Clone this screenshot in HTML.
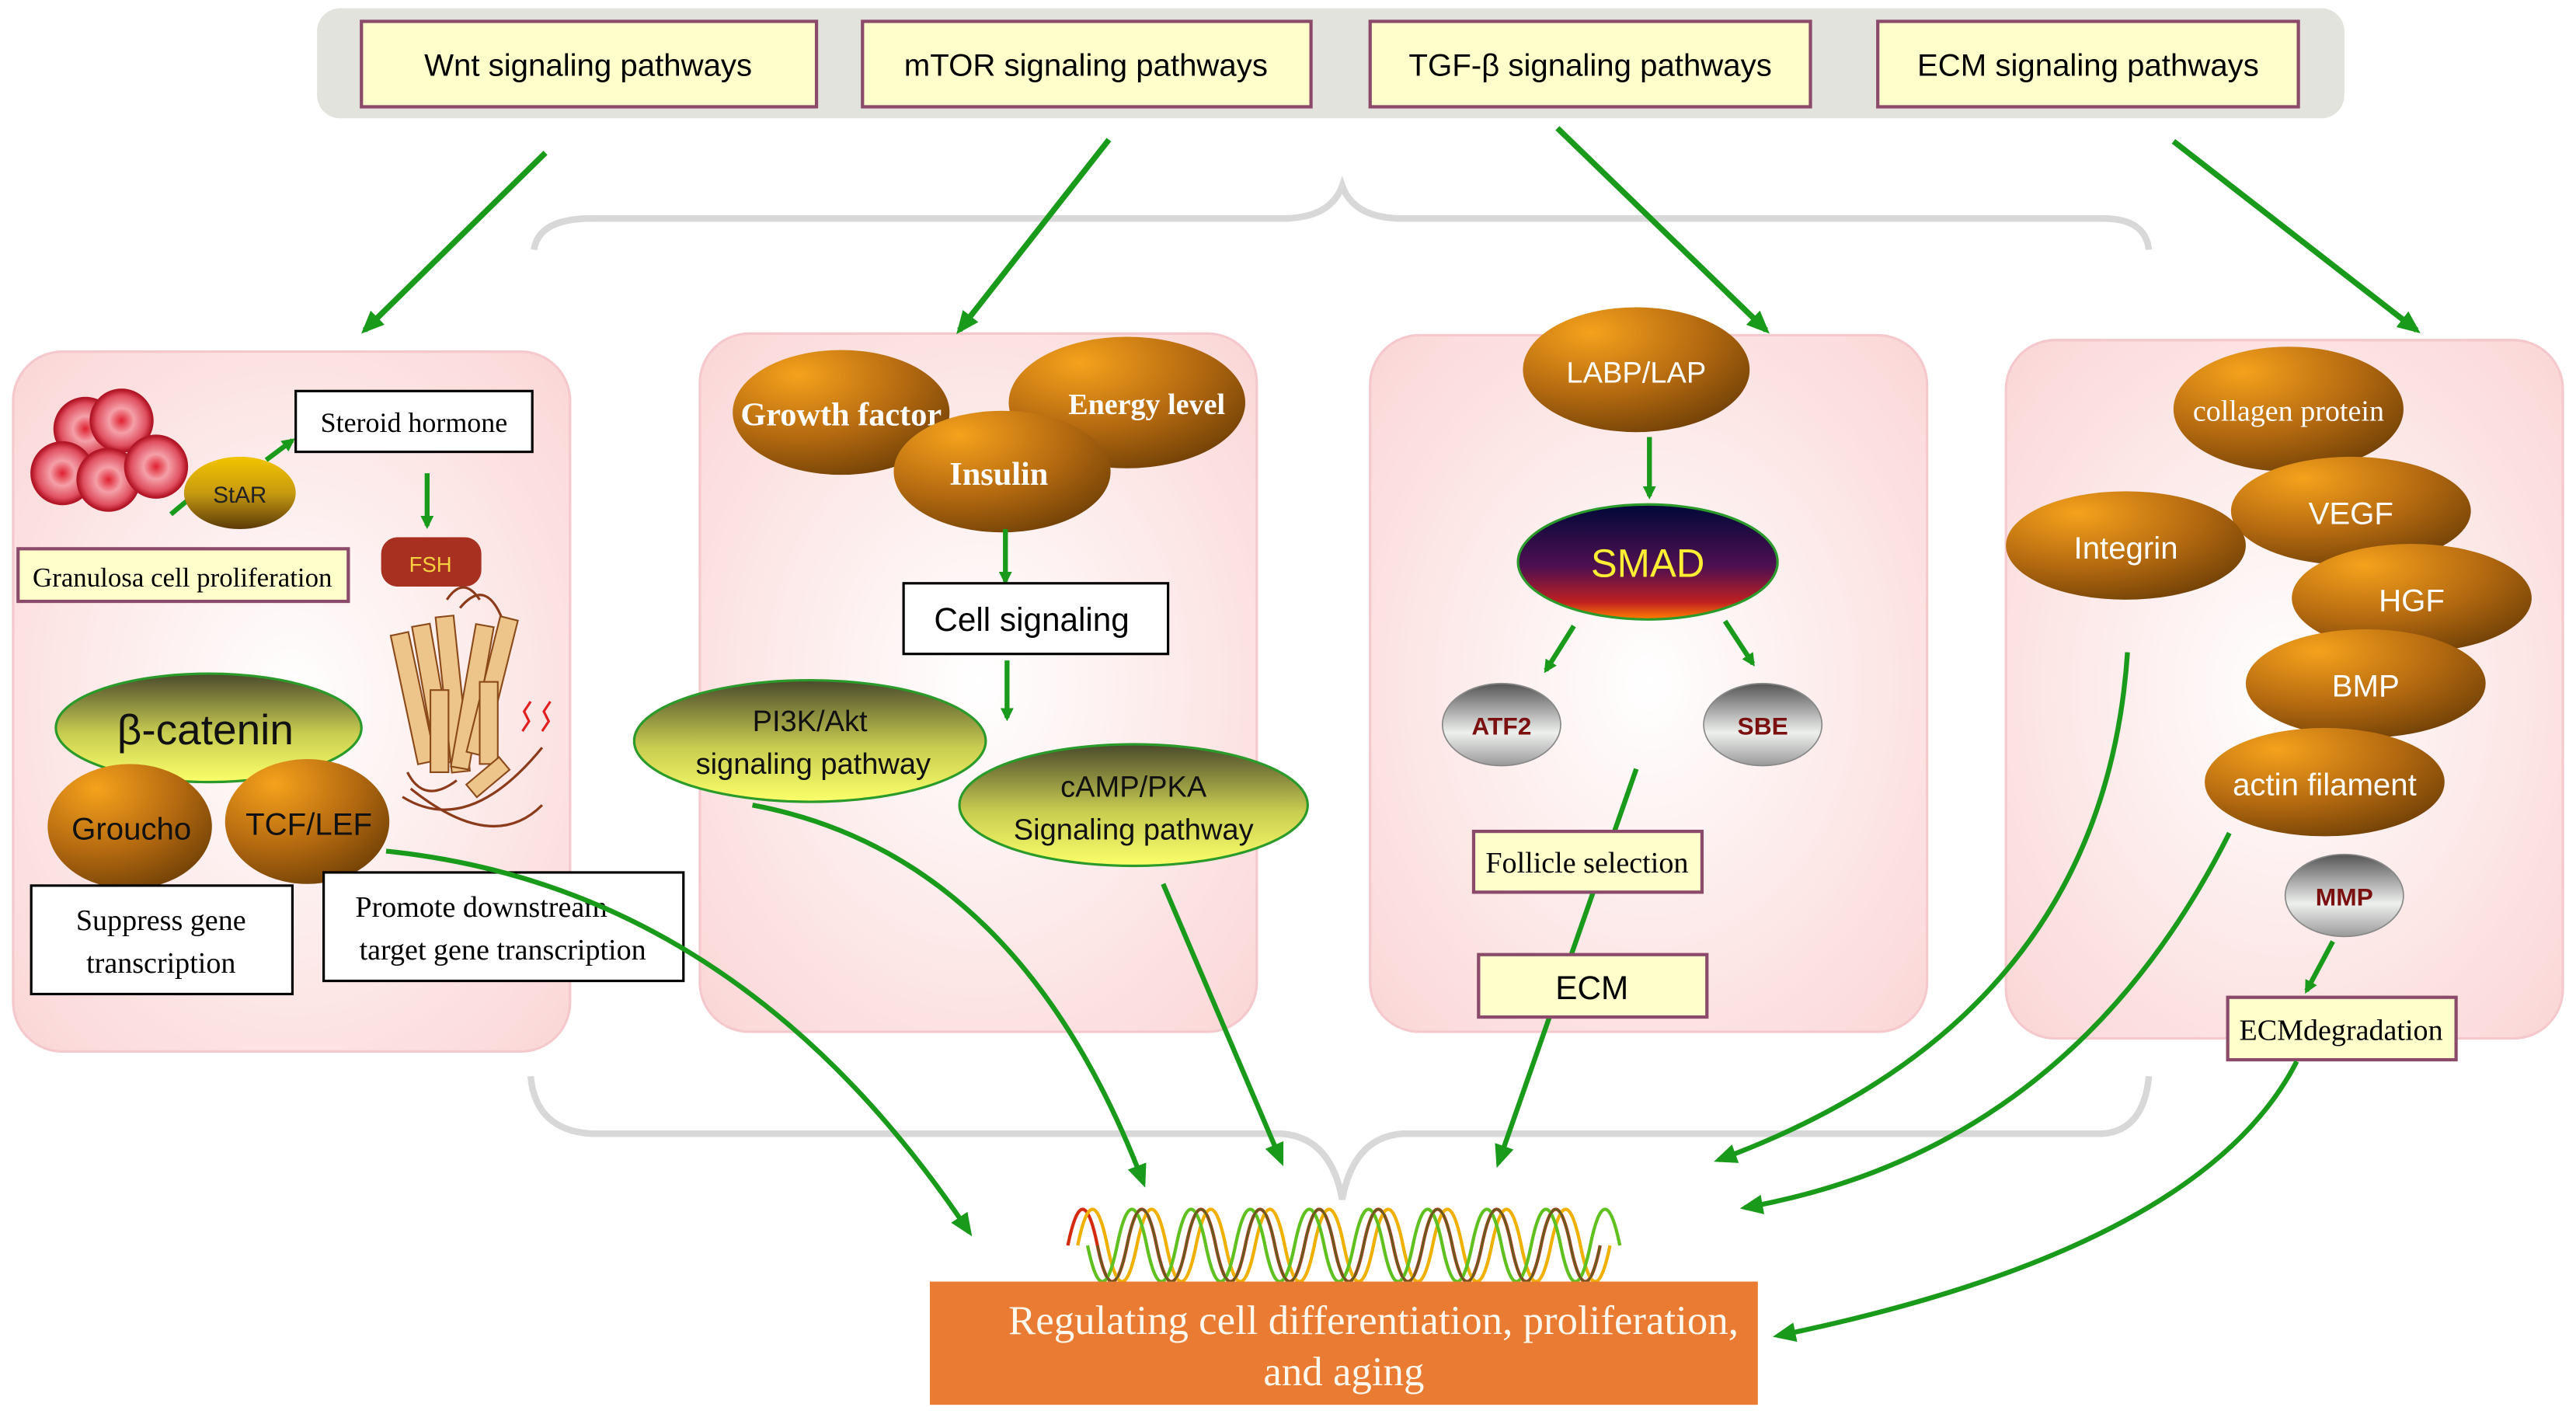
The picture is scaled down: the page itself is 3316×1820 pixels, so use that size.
<!DOCTYPE html>
<html><head><meta charset="utf-8"><style>
html,body{margin:0;padding:0;background:#fff;width:3316px;height:1820px;overflow:hidden}
svg{display:block}
.s{font-family:"Liberation Serif",serif}
.n{font-family:"Liberation Sans",sans-serif}
</style></head><body>
<svg width="3316" height="1820" viewBox="0 0 1568 860.6" preserveAspectRatio="none">
<defs>
<radialGradient id="br" cx="0.3" cy="0.2" r="0.9"><stop offset="0" stop-color="#f5a21c"/><stop offset="0.55" stop-color="#b56a10"/><stop offset="1" stop-color="#6e3f06"/></radialGradient>
<linearGradient id="gy" x1="0" y1="0" x2="0" y2="1"><stop offset="0" stop-color="#4a4a2c"/><stop offset="0.55" stop-color="#c8cc50"/><stop offset="1" stop-color="#fbff6a"/></linearGradient>
<linearGradient id="gr" x1="0" y1="0" x2="0" y2="1"><stop offset="0" stop-color="#555"/><stop offset="0.6" stop-color="#eef0ee"/><stop offset="1" stop-color="#999"/></linearGradient>
<linearGradient id="sm" x1="0" y1="0" x2="0" y2="1"><stop offset="0" stop-color="#000838"/><stop offset="0.55" stop-color="#501050"/><stop offset="0.85" stop-color="#c02020"/><stop offset="1" stop-color="#ff8000"/></linearGradient>
<linearGradient id="st" x1="0" y1="0" x2="0" y2="1"><stop offset="0" stop-color="#f2c400"/><stop offset="0.5" stop-color="#c89a10"/><stop offset="1" stop-color="#5a3a08"/></linearGradient>
<radialGradient id="pk" cx="0.5" cy="0.5" r="0.7"><stop offset="0" stop-color="#ffffff"/><stop offset="1" stop-color="#fbd6d6"/></radialGradient>
<radialGradient id="cell" cx="0.5" cy="0.5" r="0.5"><stop offset="0" stop-color="#e02030"/><stop offset="0.4" stop-color="#f4a0a8"/><stop offset="0.8" stop-color="#e05060"/><stop offset="1" stop-color="#b01020"/></radialGradient>
<marker id="ah" markerWidth="8" markerHeight="8" refX="6" refY="4" orient="auto" markerUnits="userSpaceOnUse" viewBox="0 0 8 8"><path d="M0,0 L8,4 L0,8 z" fill="#1a9a1a"/></marker>
<marker id="ah2" markerWidth="14" markerHeight="14" refX="11" refY="7" orient="auto" markerUnits="userSpaceOnUse" viewBox="0 0 14 14"><path d="M0,1 L14,7 L0,13 z" fill="#1a9a1a"/></marker>
</defs>

<rect x="193" y="5" width="1234" height="67" rx="14" fill="#e2e3dc"/>
<g stroke="#8b4a6a" stroke-width="2" fill="#ffffcc">
<rect x="220" y="13" width="277" height="52"/>
<rect x="525" y="13" width="273" height="52"/>
<rect x="834" y="13" width="268" height="52"/>
<rect x="1143" y="13" width="256" height="52"/>
</g>
<g class="n" font-size="19" text-anchor="middle" fill="#000">
<text x="358" y="46">Wnt signaling pathways</text>
<text x="661" y="46">mTOR signaling pathways</text>
<text x="968" y="46">TGF-β signaling pathways</text>
<text x="1271" y="46">ECM signaling pathways</text>
</g>

<path d="M325,152 Q328,133 360,133 L780,133 Q810,133 817,113 Q824,133 854,133 L1280,133 Q1306,133 1308,152" fill="none" stroke="#d8d8d8" stroke-width="4"/>
<path d="M323,655 Q326,688 360,690 L780,690 Q810,692 817,730 Q824,692 854,690 L1280,690 Q1305,688 1308,655" fill="none" stroke="#d8d8d8" stroke-width="4"/>

<g fill="url(#pk)" stroke="#f4c8cc" stroke-width="1.5">
<rect x="8" y="214" width="339" height="426" rx="30"/>
<rect x="426" y="203" width="339" height="425" rx="30"/>
<rect x="834" y="204" width="339" height="424" rx="30"/>
<rect x="1221" y="207" width="339" height="425" rx="30"/>
</g>

<g stroke="#1a9a1a" stroke-width="3.5" fill="none" marker-end="url(#ah2)">
<line x1="332" y1="93" x2="222" y2="201"/>
<line x1="675" y1="85" x2="584" y2="201"/>
<line x1="948" y1="78" x2="1075" y2="201"/>
<line x1="1323" y1="86" x2="1471" y2="201"/>
</g>

<g stroke="#b01828" stroke-width="1">
<circle cx="52" cy="261" r="19" fill="url(#cell)"/>
<circle cx="74" cy="256" r="19" fill="url(#cell)"/>
<circle cx="38" cy="288" r="19" fill="url(#cell)"/>
<circle cx="66" cy="292" r="19" fill="url(#cell)"/>
<circle cx="95" cy="284" r="19" fill="url(#cell)"/>
</g>
<line x1="104" y1="313" x2="116" y2="303" stroke="#1a9a1a" stroke-width="3"/>
<line x1="162" y1="280" x2="178" y2="268" stroke="#1a9a1a" stroke-width="3" marker-end="url(#ah)"/>
<ellipse cx="146" cy="300" rx="34" ry="22" fill="url(#st)"/>
<text x="146" y="306" class="n" font-size="14" text-anchor="middle" fill="#222">StAR</text>
<rect x="180" y="238" width="144" height="37" fill="#fff" stroke="#000" stroke-width="1.5"/>
<text x="252" y="263" class="s" font-size="17" text-anchor="middle">Steroid hormone</text>
<line x1="260" y1="288" x2="260" y2="320" stroke="#1a9a1a" stroke-width="3" marker-end="url(#ah)"/>
<rect x="11" y="334" width="201" height="32" fill="#ffffcc" stroke="#8b4a6a" stroke-width="2"/>
<text x="111" y="357" class="s" font-size="16.5" text-anchor="middle">Granulosa cell proliferation</text>
<rect x="232" y="327" width="61" height="30" rx="10" fill="#a83020"/>
<text x="262" y="348" class="n" font-size="13" text-anchor="middle" fill="#f8d040">FSH</text>
<g fill="#edc58a" stroke="#8b4a1a" stroke-width="1">
<rect x="246" y="385" width="11" height="80" transform="rotate(-12 251 425)"/>
<rect x="258" y="380" width="11" height="85" transform="rotate(-10 263 422)"/>
<rect x="270" y="375" width="11" height="95" transform="rotate(-6 275 422)"/>
<rect x="282" y="380" width="11" height="88" transform="rotate(10 287 424)"/>
<rect x="294" y="375" width="11" height="85" transform="rotate(14 299 418)"/>
<rect x="262" y="420" width="11" height="50"/>
<rect x="292" y="415" width="11" height="50"/>
<rect x="292" y="460" width="10" height="26" transform="rotate(50 297 473)"/>
</g>
<path d="M272,365 q10,-15 20,0 M280,370 q15,-18 25,5 M248,470 q10,20 30,5 M245,485 q40,25 85,-30 M250,480 q50,40 80,10" fill="none" stroke="#8b3a1a" stroke-width="1.5"/>
<path d="M318,445 l4,-6 -3,-6 4,-6 M330,445 l4,-6 -3,-6 4,-6" fill="none" stroke="#e02020" stroke-width="1.5"/>
<ellipse cx="127" cy="443" rx="93" ry="33" fill="url(#gy)" stroke="#2a9a2a" stroke-width="1.5"/>
<text x="125" y="453" class="n" font-size="26" text-anchor="middle" fill="#111">β-catenin</text>
<ellipse cx="79" cy="503" rx="50" ry="38" fill="url(#br)"/>
<text x="80" y="511" class="n" font-size="19" text-anchor="middle" fill="#111">Groucho</text>
<ellipse cx="187" cy="500" rx="50" ry="38" fill="url(#br)"/>
<text x="188" y="508" class="n" font-size="19" text-anchor="middle" fill="#111">TCF/LEF</text>
<rect x="19" y="539" width="159" height="66" fill="#fff" stroke="#000" stroke-width="1.5"/>
<text x="98" y="566" class="s" font-size="18" text-anchor="middle">Suppress gene</text>
<text x="98" y="592" class="s" font-size="18" text-anchor="middle">transcription</text>
<rect x="197" y="531" width="219" height="66" fill="#fff" stroke="#000" stroke-width="1.5"/>
<text x="293" y="558" class="s" font-size="18" text-anchor="middle">Promote downstream</text>
<text x="306" y="584" class="s" font-size="18" text-anchor="middle">target gene transcription</text>

<ellipse cx="512" cy="251" rx="66" ry="38" fill="url(#br)"/>
<text x="512" y="259" class="s" font-size="20" font-weight="bold" text-anchor="middle" fill="#fff">Growth factor</text>
<ellipse cx="686" cy="245" rx="72" ry="40" fill="url(#br)"/>
<text x="698" y="252" class="s" font-size="18" font-weight="bold" text-anchor="middle" fill="#fff">Energy level</text>
<ellipse cx="610" cy="287" rx="66" ry="37" fill="url(#br)"/>
<text x="608" y="295" class="s" font-size="20" font-weight="bold" text-anchor="middle" fill="#fff">Insulin</text>
<line x1="612" y1="322" x2="612" y2="354" stroke="#1a9a1a" stroke-width="3" marker-end="url(#ah)"/>
<rect x="550" y="355" width="161" height="43" fill="#fff" stroke="#000" stroke-width="1.5"/>
<text x="628" y="384" class="n" font-size="20" text-anchor="middle">Cell signaling</text>
<line x1="613" y1="402" x2="613" y2="437" stroke="#1a9a1a" stroke-width="3" marker-end="url(#ah)"/>
<ellipse cx="493" cy="451" rx="107" ry="37" fill="url(#gy)" stroke="#2a9a2a" stroke-width="1.5"/>
<text x="493" y="445" class="n" font-size="18" text-anchor="middle" fill="#111">PI3K/Akt</text>
<text x="495" y="471" class="n" font-size="18" text-anchor="middle" fill="#111">signaling pathway</text>
<ellipse cx="690" cy="490" rx="106" ry="37" fill="url(#gy)" stroke="#2a9a2a" stroke-width="1.5"/>
<text x="690" y="485" class="n" font-size="18" text-anchor="middle" fill="#111">cAMP/PKA</text>
<text x="690" y="511" class="n" font-size="18" text-anchor="middle" fill="#111">Signaling pathway</text>

<ellipse cx="996" cy="225" rx="69" ry="38" fill="url(#br)"/>
<text x="996" y="233" class="n" font-size="18" text-anchor="middle" fill="#fff">LABP/LAP</text>
<line x1="1004" y1="266" x2="1004" y2="302" stroke="#1a9a1a" stroke-width="3" marker-end="url(#ah)"/>
<ellipse cx="1003" cy="342" rx="79" ry="35" fill="url(#sm)" stroke="#2a9a2a" stroke-width="1.5"/>
<text x="1003" y="351" class="n" font-size="24" text-anchor="middle" fill="#ffee33">SMAD</text>
<line x1="958" y1="381" x2="941" y2="408" stroke="#1a9a1a" stroke-width="3" marker-end="url(#ah)"/>
<line x1="1050" y1="378" x2="1067" y2="404" stroke="#1a9a1a" stroke-width="3" marker-end="url(#ah)"/>
<ellipse cx="914" cy="441" rx="36" ry="25" fill="url(#gr)" stroke="#888" stroke-width="0.8"/>
<text x="914" y="447" class="n" font-size="15" font-weight="bold" text-anchor="middle" fill="#7a1010">ATF2</text>
<ellipse cx="1073" cy="441" rx="36" ry="25" fill="url(#gr)" stroke="#888" stroke-width="0.8"/>
<text x="1073" y="447" class="n" font-size="15" font-weight="bold" text-anchor="middle" fill="#7a1010">SBE</text>
<line x1="996" y1="468" x2="912" y2="708" stroke="#1a9a1a" stroke-width="3" marker-end="url(#ah2)"/>
<rect x="897" y="506" width="139" height="37" fill="#ffffcc" stroke="#8b4a6a" stroke-width="2"/>
<text x="966" y="531" class="s" font-size="18" text-anchor="middle">Follicle selection</text>
<rect x="900" y="581" width="139" height="38" fill="#ffffcc" stroke="#8b4a6a" stroke-width="2"/>
<text x="969" y="608" class="n" font-size="20" text-anchor="middle">ECM</text>

<ellipse cx="1393" cy="249" rx="70" ry="38" fill="url(#br)"/>
<text x="1393" y="256" class="s" font-size="18" text-anchor="middle" fill="#fff">collagen protein</text>
<ellipse cx="1431" cy="311" rx="73" ry="33" fill="url(#br)"/>
<text x="1431" y="319" class="n" font-size="19" text-anchor="middle" fill="#fff">VEGF</text>
<ellipse cx="1294" cy="332" rx="73" ry="33" fill="url(#br)"/>
<text x="1294" y="340" class="n" font-size="19" text-anchor="middle" fill="#fff">Integrin</text>
<ellipse cx="1468" cy="364" rx="73" ry="33" fill="url(#br)"/>
<text x="1468" y="372" class="n" font-size="19" text-anchor="middle" fill="#fff">HGF</text>
<ellipse cx="1440" cy="416" rx="73" ry="33" fill="url(#br)"/>
<text x="1440" y="424" class="n" font-size="19" text-anchor="middle" fill="#fff">BMP</text>
<ellipse cx="1415" cy="476" rx="73" ry="33" fill="url(#br)"/>
<text x="1415" y="484" class="n" font-size="19" text-anchor="middle" fill="#fff">actin filament</text>
<ellipse cx="1427" cy="545" rx="36" ry="25" fill="url(#gr)" stroke="#888" stroke-width="0.8"/>
<text x="1427" y="551" class="n" font-size="15" font-weight="bold" text-anchor="middle" fill="#7a1010">MMP</text>
<line x1="1420" y1="573" x2="1404" y2="603" stroke="#1a9a1a" stroke-width="3" marker-end="url(#ah)"/>
<rect x="1356" y="607" width="139" height="38" fill="#ffffcc" stroke="#8b4a6a" stroke-width="2"/>
<text x="1425" y="633" class="s" font-size="18" text-anchor="middle">ECMdegradation</text>

<g stroke="#1a9a1a" stroke-width="3" fill="none" marker-end="url(#ah2)">
<path d="M235,518 Q450,540 590,750"/>
<path d="M458,490 Q620,520 696,720"/>
<path d="M708,538 L780,707"/>
<path d="M1295,397 Q1280,620 1046,706"/>
<path d="M1357,507 Q1260,700 1062,735"/>
<path d="M1398,646 Q1340,760 1082,813"/>
</g>

<g fill="none" stroke-width="2">
<path d="M650,758 q9,-44 18,0 q9,44 18,0 q9,-44 18,0 q9,44 18,0 q9,-44 18,0 q9,44 18,0 q9,-44 18,0 q9,44 18,0 q9,-44 18,0 q9,44 18,0 q9,-44 18,0 q9,44 18,0 q9,-44 18,0 q9,44 18,0 q9,-44 18,0 q9,44 18,0 q9,-44 18,0 q9,44 18,0" stroke="#d42a10"/>
<path d="M656,758 q9,-44 18,0 q9,44 18,0 q9,-44 18,0 q9,44 18,0 q9,-44 18,0 q9,44 18,0 q9,-44 18,0 q9,44 18,0 q9,-44 18,0 q9,44 18,0 q9,-44 18,0 q9,44 18,0 q9,-44 18,0 q9,44 18,0 q9,-44 18,0 q9,44 18,0 q9,-44 18,0 q9,44 18,0" stroke="#f0b000"/>
<path d="M662,758 q9,44 18,0 q9,-44 18,0 q9,44 18,0 q9,-44 18,0 q9,44 18,0 q9,-44 18,0 q9,44 18,0 q9,-44 18,0 q9,44 18,0 q9,-44 18,0 q9,44 18,0 q9,-44 18,0 q9,44 18,0 q9,-44 18,0 q9,44 18,0 q9,-44 18,0 q9,44 18,0 q9,-44 18,0" stroke="#60c020"/>
<path d="M668,758 q9,44 18,0 q9,-44 18,0 q9,44 18,0 q9,-44 18,0 q9,44 18,0 q9,-44 18,0 q9,44 18,0 q9,-44 18,0 q9,44 18,0 q9,-44 18,0 q9,44 18,0 q9,-44 18,0 q9,44 18,0 q9,-44 18,0 q9,44 18,0 q9,-44 18,0 q9,44 18,0" stroke="#6a5a20" stroke-width="1.5"/>
</g>

<rect x="566" y="780" width="504" height="75" fill="#e97b32"/>
<text x="836" y="812" class="s" font-size="25" text-anchor="middle" fill="#fff8ee">Regulating cell differentiation, proliferation,</text>
<text x="818" y="843" class="s" font-size="25" text-anchor="middle" fill="#fff8ee">and aging</text>
</svg>
</body></html>
